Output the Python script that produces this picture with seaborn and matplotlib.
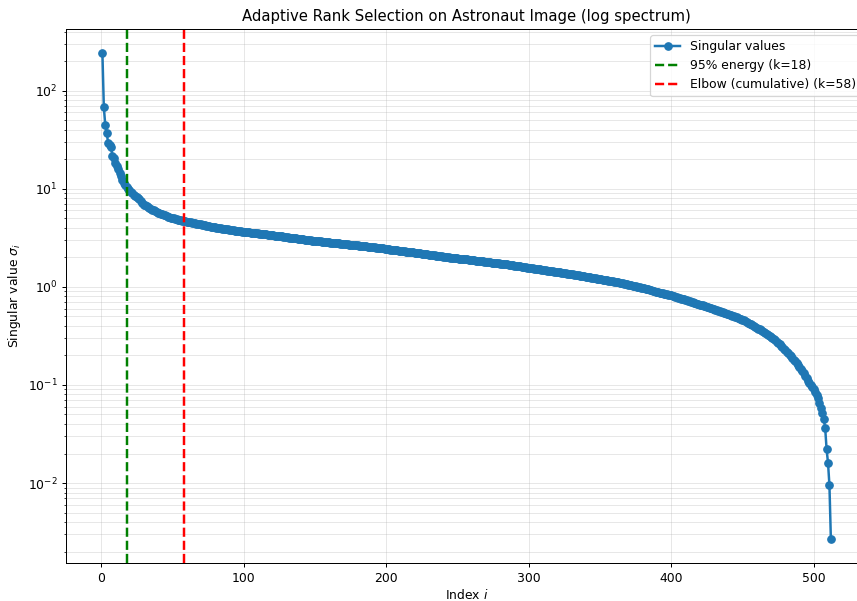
import numpy as np
import matplotlib
matplotlib.use('Agg')
import matplotlib.pyplot as plt
import seaborn as sns

# Singular values (index 1..512)
head_values = [241, 67.6, 44.7, 36.9, 29.5, 27.8, 26.6, 21.7, 20.8, 18.2,
               17.0, 15.8, 14.6, 13.4, 12.3, 11.5, 10.9, 10.4, 10.0, 9.6,
               9.3, 9.0, 8.7, 8.4, 8.2, 8.0, 7.8, 7.5, 7.2, 6.9,
               6.8, 6.7, 6.5, 6.4, 6.25, 6.1, 6.0, 5.9, 5.8, 5.7,
               5.62, 5.55, 5.48, 5.41, 5.34, 5.27, 5.21, 5.15, 5.09, 5.03,
               4.98, 4.93, 4.89, 4.85, 4.81, 4.77, 4.73, 4.69, 4.66, 4.63,
               4.60, 4.57, 4.54, 4.51, 4.48, 4.45, 4.42, 4.39, 4.36, 4.33,
               4.30, 4.27, 4.24, 4.21, 4.18, 4.15, 4.12, 4.09, 4.06, 4.04,
               4.02, 4.00, 3.97, 3.95, 3.93, 3.91, 3.89, 3.87, 3.85, 3.83,
               3.81, 3.79, 3.77, 3.75, 3.73, 3.71, 3.69, 3.67, 3.65, 3.63]
mid_values = [3.62, 3.60, 3.59, 3.58, 3.56, 3.55, 3.54, 3.53, 3.52, 3.51,
              3.49, 3.48, 3.46, 3.45, 3.43, 3.42, 3.40, 3.39, 3.37, 3.36,
              3.35, 3.33, 3.32, 3.30, 3.29, 3.27, 3.26, 3.24, 3.23, 3.21,
              3.20, 3.18, 3.17, 3.15, 3.14, 3.12, 3.11, 3.09, 3.08, 3.07,
              3.05, 3.04, 3.03, 3.01, 3.00, 2.99, 2.98, 2.96, 2.95, 2.94,
              2.93, 2.92, 2.91, 2.90, 2.89, 2.88, 2.87, 2.86, 2.85, 2.84,
              2.83, 2.82, 2.81, 2.80, 2.79, 2.78, 2.77, 2.76, 2.75, 2.74,
              2.73, 2.72, 2.71, 2.70, 2.69, 2.68, 2.67, 2.66, 2.65, 2.64,
              2.63, 2.62, 2.61, 2.60, 2.59, 2.58, 2.57, 2.56, 2.55, 2.54,
              2.53, 2.52, 2.51, 2.50, 2.49, 2.48, 2.47, 2.46, 2.45, 2.43,
              2.42, 2.41, 2.40, 2.39, 2.38, 2.37, 2.36, 2.35, 2.34, 2.33,
              2.32, 2.31, 2.30, 2.29, 2.28, 2.27, 2.26, 2.255, 2.245, 2.235,
              2.225, 2.215, 2.205, 2.195, 2.185, 2.175, 2.165, 2.155, 2.145, 2.135,
              2.125, 2.115, 2.105, 2.095, 2.085, 2.075, 2.065, 2.055, 2.045, 2.035,
              2.025, 2.015, 2.005, 1.995, 1.985, 1.975, 1.97, 1.96, 1.955, 1.95,
              1.94, 1.935, 1.93, 1.92, 1.91, 1.905, 1.90, 1.89, 1.88, 1.875,
              1.87, 1.86, 1.85, 1.845, 1.84, 1.83, 1.82, 1.815, 1.81, 1.80,
              1.79, 1.785, 1.78, 1.77, 1.76, 1.755, 1.75, 1.74, 1.73, 1.725,
              1.72, 1.71, 1.70, 1.695, 1.69, 1.68, 1.67, 1.665, 1.66, 1.65,
              1.64, 1.635, 1.63, 1.62, 1.61, 1.60, 1.59, 1.58, 1.57, 1.56]
late_values = [1.553, 1.546, 1.539, 1.531, 1.524, 1.517, 1.510, 1.503, 1.496, 1.488,
               1.481, 1.474, 1.467, 1.460, 1.452, 1.445, 1.438, 1.431, 1.424, 1.416,
               1.409, 1.402, 1.395, 1.388, 1.380, 1.373, 1.366, 1.359, 1.352, 1.344,
               1.337, 1.330, 1.323, 1.316, 1.308, 1.301, 1.294, 1.287, 1.280, 1.272,
               1.265, 1.258, 1.251, 1.244, 1.236, 1.229, 1.222, 1.215, 1.208, 1.200,
               1.193, 1.186, 1.179, 1.172, 1.165, 1.158, 1.151, 1.144, 1.137, 1.130,
               1.123, 1.116, 1.108, 1.100, 1.093, 1.085, 1.077, 1.069, 1.061, 1.053,
               1.045, 1.037, 1.029, 1.021, 1.013, 1.005, 0.997, 0.989, 0.981, 0.973,
               0.965, 0.957, 0.949, 0.941, 0.932, 0.923, 0.914, 0.905, 0.896, 0.887,
               0.880, 0.872, 0.865, 0.858, 0.851, 0.844, 0.837, 0.830, 0.823, 0.817]
tail_values = [0.808, 0.800, 0.792, 0.783, 0.775, 0.767, 0.759, 0.751, 0.743, 0.735,
               0.727, 0.720, 0.712, 0.704, 0.697, 0.689, 0.682, 0.675, 0.667, 0.660,
               0.653, 0.646, 0.639, 0.632, 0.625, 0.618, 0.611, 0.604, 0.597, 0.590,
               0.583, 0.576, 0.569, 0.563, 0.556, 0.550, 0.543, 0.537, 0.531, 0.525,
               0.519, 0.512, 0.506, 0.500, 0.493, 0.487, 0.481, 0.475, 0.468, 0.462,
               0.454, 0.446, 0.438, 0.430, 0.422, 0.414, 0.406, 0.398, 0.390, 0.382,
               0.375, 0.368, 0.361, 0.354, 0.347, 0.340, 0.333, 0.326, 0.318, 0.310,
               0.302, 0.294, 0.285, 0.277, 0.268, 0.260, 0.251, 0.243, 0.235, 0.226,
               0.218, 0.211, 0.203, 0.196, 0.188, 0.181, 0.174, 0.167, 0.160, 0.154,
               0.147, 0.139, 0.131, 0.124, 0.117, 0.111, 0.105, 0.100, 0.096, 0.092,
               0.085, 0.079, 0.073, 0.065, 0.058, 0.052, 0.045, 0.0365, 0.0222, 0.0161,
               0.0095, 0.0027]

singular_values = head_values + mid_values + late_values + tail_values
index = np.arange(1, len(singular_values) + 1)

k_energy = 18
k_elbow = 58

# reference looks rendered a bit smaller than 100 dpi, so scale everything down
fig, ax = plt.subplots(figsize=(857 / 89, 601 / 89), dpi=89)
sns.lineplot(x=index, y=singular_values, ax=ax, marker='o', color='#1f77b4',
             linewidth=2, markersize=6, markeredgecolor='#1f77b4',
             markeredgewidth=1, label='Singular values')
ax.axvline(k_energy, color='green', linestyle='--', linewidth=2,
           label=f'95% energy (k={k_energy})')
ax.axvline(k_elbow, color='red', linestyle='--', linewidth=2,
           label=f'Elbow (cumulative) (k={k_elbow})')

ax.set_yscale('log')
ax.set_xlabel('Index $i$', labelpad=2.5)
ax.set_ylabel('Singular value $\\sigma_i$')
ax.set_title('Adaptive Rank Selection on Astronaut Image (log spectrum)')
ax.grid(True, which='both', alpha=0.3)
ax.legend(loc='upper right')

# right edge of the axes sits just past the image, like the cropped reference
plt.subplots_adjust(left=0.077, right=1.012, top=0.952, bottom=0.063)
plt.savefig('out.png', dpi=89)
plt.close()
